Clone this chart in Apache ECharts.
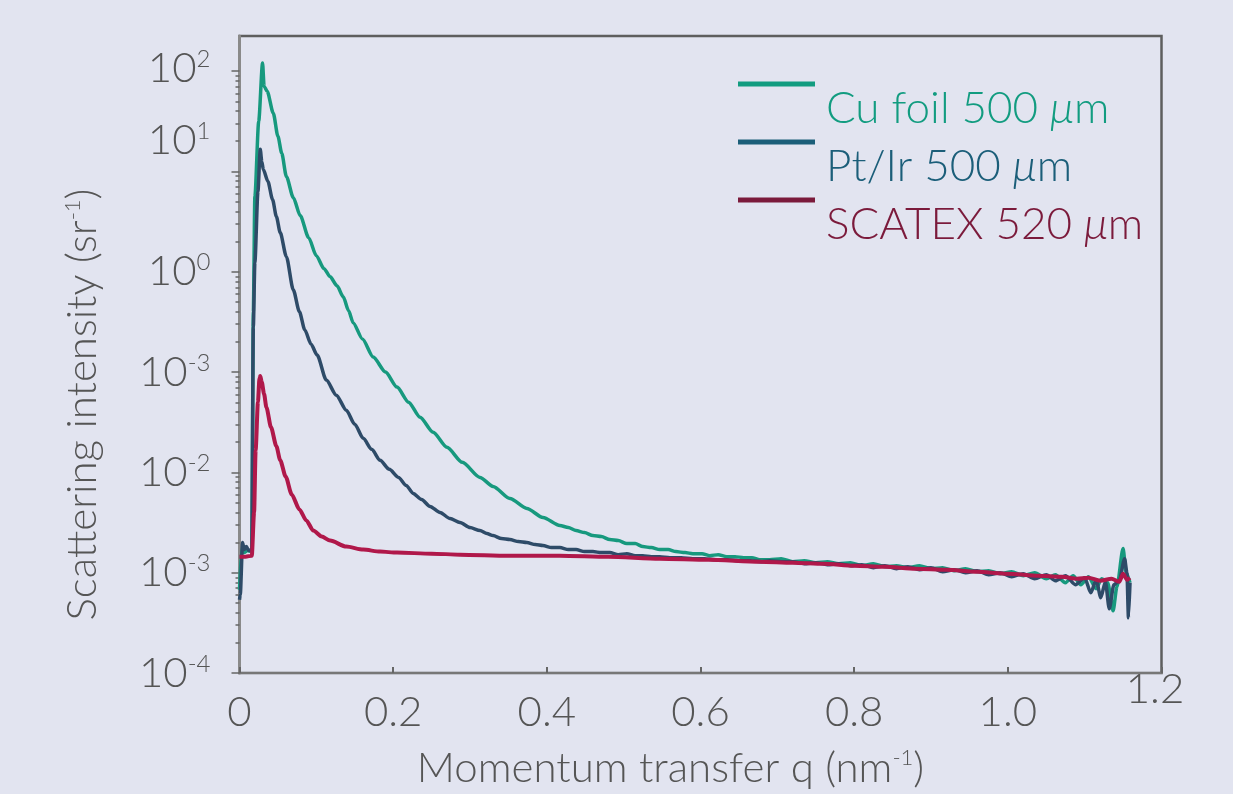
<!DOCTYPE html>
<html>
<head>
<meta charset="utf-8">
<script src="https://cdn.jsdelivr.net/npm/echarts@6/dist/echarts.min.js"></script>
<style>
  html, body { margin: 0; padding: 0; background: #e2e4f0; }
  #chart { width: 1233px; height: 794px; }
</style>
</head>
<body>
<div id="chart"></div>
<script>
// y values are positions on the (decade) log scale of the figure: 10^u
var seriesNames = ['Cu foil 500 μm', 'Pt/Ir 500 μm', 'SCATEX 520 μm'];
var lineColors = ['#17997e', '#2e4b68', '#b0184a'];
var legendColors = ['#129c80', '#1b5e79', '#7b1a3b'];

var cuData = [
  [0.000,-3.17],[0.003,-2.75],[0.006,-2.80],[0.010,-2.78],[0.016,-2.79],[0.018,-0.40],[0.020,0.75],
  [0.025,1.50],[0.030,2.08],[0.032,1.85],[0.036,1.80],[0.044,1.58],[0.050,1.35],[0.055,1.18],
  [0.061,0.95],[0.070,0.74],[0.079,0.56],[0.090,0.34],[0.100,0.16],[0.110,0.03],[0.118,-0.05],
  [0.127,-0.14],[0.135,-0.25],[0.142,-0.39],[0.148,-0.51],[0.160,-0.67],[0.174,-0.85],[0.190,-1.00],
  [0.205,-1.15],[0.220,-1.30],[0.235,-1.45],[0.252,-1.60],[0.270,-1.75],[0.290,-1.90],[0.313,-2.05],
  [0.330,-2.14],[0.352,-2.26],[0.374,-2.36],[0.395,-2.45],[0.417,-2.53],[0.428,-2.55],[0.438,-2.58],
  [0.449,-2.60],[0.460,-2.63],[0.471,-2.64],[0.482,-2.67],[0.493,-2.68],[0.504,-2.71],[0.515,-2.71],
  [0.525,-2.74],[0.536,-2.75],[0.547,-2.77],[0.558,-2.77],[0.568,-2.79],[0.580,-2.80],[0.590,-2.81],
  [0.602,-2.81],[0.612,-2.83],[0.623,-2.82],[0.634,-2.84],[0.645,-2.84],[0.656,-2.85],[0.667,-2.85],
  [0.677,-2.87],[0.690,-2.87],[0.705,-2.86],[0.720,-2.89],[0.735,-2.88],[0.750,-2.90],[0.765,-2.89],
  [0.780,-2.91],[0.795,-2.90],[0.810,-2.93],[0.825,-2.91],[0.840,-2.94],[0.855,-2.93],[0.870,-2.95],
  [0.885,-2.93],[0.900,-2.96],[0.915,-2.95],[0.930,-2.98],[0.945,-2.96],[0.960,-2.99],[0.975,-2.98],
  [0.990,-3.01],[1.005,-2.99],[1.020,-3.03],[1.035,-3.00],[1.050,-3.06],[1.062,-3.02],[1.075,-3.10],
  [1.085,-3.03],[1.095,-3.12],[1.105,-3.04],[1.115,-3.16],[1.122,-3.06],[1.130,-3.10],[1.137,-3.38],
  [1.142,-3.14],[1.150,-2.76],[1.154,-3.00],[1.159,-3.10]
];

var ptData = [
  [0.000,-3.27],[0.001,-3.22],[0.004,-2.70],[0.006,-2.77],[0.009,-2.74],[0.012,-2.78],[0.016,-2.77],
  [0.018,-0.55],[0.020,0.09],[0.024,0.80],[0.027,1.22],[0.029,1.10],[0.031,1.02],[0.037,0.90],
  [0.043,0.72],[0.048,0.55],[0.053,0.39],[0.061,0.15],[0.070,-0.18],[0.078,-0.40],[0.085,-0.58],
  [0.093,-0.72],[0.101,-0.83],[0.113,-1.08],[0.126,-1.23],[0.139,-1.38],[0.150,-1.52],[0.161,-1.66],
  [0.172,-1.77],[0.183,-1.88],[0.195,-1.97],[0.207,-2.05],[0.217,-2.13],[0.226,-2.21],[0.237,-2.27],
  [0.248,-2.34],[0.261,-2.40],[0.274,-2.46],[0.287,-2.50],[0.300,-2.55],[0.313,-2.58],[0.322,-2.61],
  [0.330,-2.63],[0.341,-2.66],[0.352,-2.67],[0.363,-2.69],[0.374,-2.70],[0.385,-2.72],[0.395,-2.73],
  [0.406,-2.75],[0.417,-2.75],[0.428,-2.77],[0.438,-2.77],[0.449,-2.79],[0.460,-2.79],[0.471,-2.80],
  [0.482,-2.80],[0.493,-2.82],[0.504,-2.81],[0.515,-2.83],[0.525,-2.83],[0.536,-2.84],[0.547,-2.84],
  [0.560,-2.85],[0.575,-2.85],[0.590,-2.86],[0.605,-2.86],[0.620,-2.87],[0.635,-2.87],[0.650,-2.88],
  [0.665,-2.88],[0.680,-2.89],[0.690,-2.88],[0.705,-2.89],[0.720,-2.89],[0.735,-2.91],[0.750,-2.90],
  [0.765,-2.92],[0.780,-2.91],[0.795,-2.93],[0.810,-2.92],[0.825,-2.95],[0.840,-2.93],[0.855,-2.96],
  [0.870,-2.94],[0.885,-2.97],[0.900,-2.95],[0.915,-2.99],[0.930,-2.97],[0.945,-3.00],[0.960,-2.98],
  [0.975,-3.02],[0.990,-3.00],[1.005,-3.04],[1.020,-3.01],[1.035,-3.06],[1.050,-3.02],[1.062,-3.08],
  [1.075,-3.03],[1.088,-3.12],[1.100,-3.05],[1.108,-3.20],[1.115,-3.07],[1.121,-3.25],[1.127,-3.09],
  [1.132,-3.36],[1.138,-3.12],[1.145,-3.08],[1.152,-2.86],[1.155,-3.00],[1.157,-3.45],[1.159,-3.10]
];

var scatexData = [
  [0.000,-2.84],[0.008,-2.84],[0.016,-2.83],[0.019,-2.40],[0.021,-1.78],[0.024,-1.30],[0.026,-1.06],
  [0.027,-1.04],[0.029,-1.10],[0.032,-1.22],[0.035,-1.35],[0.041,-1.55],[0.048,-1.74],[0.053,-1.88],
  [0.060,-2.04],[0.068,-2.22],[0.078,-2.37],[0.087,-2.48],[0.096,-2.58],[0.107,-2.64],[0.118,-2.68],
  [0.139,-2.74],[0.161,-2.77],[0.183,-2.79],[0.205,-2.80],[0.250,-2.81],[0.287,-2.82],[0.350,-2.83],
  [0.417,-2.83],[0.480,-2.84],[0.547,-2.86],[0.610,-2.87],[0.677,-2.89],[0.720,-2.90],[0.760,-2.91],
  [0.800,-2.93],[0.840,-2.94],[0.880,-2.96],[0.920,-2.97],[0.960,-2.99],[1.000,-3.01],[1.040,-3.03],
  [1.070,-3.04],[1.090,-3.06],[1.105,-3.05],[1.120,-3.08],[1.135,-3.06],[1.145,-3.09],[1.150,-3.01],
  [1.155,-3.07],[1.159,-3.05]
];

// axis labels exactly as printed on the figure
var yLabelPos = [-4, -3, -2, -1, 0, 1.31, 2.03];
var yLabelExp = ['-4', '-3', '-2', '-3', '0', '1', '2'];
var yMajorTicks = [-4, -3, -2, -1, 0, 1, 2];
var xTickLabels = [0, 0.2, 0.4, 0.6, 0.8, 1.0];

var yMinorTicks = [];
for (var d = -4; d < 2; d++) {
  for (var k = 2; k <= 9; k++) yMinorTicks.push(d + Math.log10(k));
}

var FONT = 'Lato';
var TXT = '#555555';

var chart = echarts.init(document.getElementById('chart'));
chart.setOption({
  backgroundColor: '#e2e4f0',
  animation: false,
  textStyle: { fontFamily: FONT },
  grid: {
    left: 239.5, right: 71.5, top: 36, bottom: 121,
    show: true, borderColor: '#5e5e5e', borderWidth: 2.5, backgroundColor: 'transparent'
  },
  legend: {
    orient: 'vertical',
    left: 733, top: 34,
    icon: 'rect',
    itemWidth: 77, itemHeight: 5,
    itemGap: -34,
    formatter: function (n) { return n.replace('μ', '{i|μ}'); },
    textStyle: {
      fontFamily: FONT, fontWeight: 300, fontSize: 44, lineHeight: 40,
      padding: [50, 0, 0, 6],
      rich: { i: { fontStyle: 'italic', fontSize: 44, fontFamily: FONT, fontWeight: 300 } }
    },
    data: seriesNames.map(function (n, i) {
      return { name: n, itemStyle: { color: legendColors[i] }, textStyle: { color: legendColors[i] } };
    })
  },
  xAxis: {
    type: 'value', min: 0, max: 1.2, interval: 0.2,
    name: 'Momentum transfer q (nm{s|-1})',
    nameLocation: 'middle', nameGap: 74,
    nameTextStyle: {
      color: TXT, fontSize: 42, fontWeight: 300, padding: [0, 60, 0, 0],
      rich: { s: { fontSize: 22, verticalAlign: 'top', color: TXT, fontWeight: 300 } }
    },
    axisLine: { onZero: false, lineStyle: { color: '#777777', width: 2 } },
    axisTick: { inside: true, length: 6, lineStyle: { color: '#666666', width: 2 } },
    axisLabel: {
      customValues: xTickLabels,
      color: TXT, fontSize: 42, fontWeight: 300, margin: 18,
      formatter: function (v) { return v === 0 ? '0' : v.toFixed(1); }
    },
    splitLine: { show: false }
  },
  yAxis: [{
    type: 'value', min: -4, max: 2.35,
    name: 'Scattering intensity (sr{s|-1})',
    nameLocation: 'middle', nameGap: 136, nameRotate: 90,
    nameTextStyle: {
      color: TXT, fontSize: 42, fontWeight: 300, padding: [0, 100, 0, 0],
      rich: { s: { fontSize: 22, verticalAlign: 'top', color: TXT, fontWeight: 300 } }
    },
    axisLine: { show: true, lineStyle: { color: '#8a8a8a', width: 3 } },
    axisTick: { customValues: yMajorTicks, length: 8, lineStyle: { color: '#666666', width: 1.5 } },
    axisLabel: {
      customValues: yLabelPos,
      margin: 29,
      formatter: function (v) {
        var i = yLabelPos.indexOf(v);
        return '{b|10}{s|' + yLabelExp[i] + '}';
      },
      rich: {
        b: { fontSize: 42, color: TXT, fontWeight: 300, fontFamily: FONT, lineHeight: 42 },
        s: { fontSize: 24, color: TXT, fontWeight: 300, fontFamily: FONT, verticalAlign: 'top', lineHeight: 24 }
      }
    },
    splitLine: { show: false }
  }, {
    type: 'value', min: -4, max: 2.35, position: 'left',
    axisLine: { show: false },
    axisTick: { customValues: yMinorTicks, length: 4, lineStyle: { color: '#666666', width: 1.5 } },
    axisLabel: { show: false },
    splitLine: { show: false }
  }],
  graphic: [{
    type: 'text',
    style: {
      text: '1.2', x: 1155, y: 689, align: 'center', verticalAlign: 'middle',
      fill: TXT, font: '300 42px ' + FONT
    }
  }],
  series: [
    { name: seriesNames[0], type: 'line', data: cuData, showSymbol: false, z: 2,
      smooth: 0.25, smoothMonotone: 'x',
      lineStyle: { color: lineColors[0], width: 3.5 }, itemStyle: { color: lineColors[0] } },
    { name: seriesNames[1], type: 'line', data: ptData, showSymbol: false, z: 3,
      smooth: 0.25, smoothMonotone: 'x',
      lineStyle: { color: lineColors[1], width: 3.5 }, itemStyle: { color: lineColors[1] } },
    { name: seriesNames[2], type: 'line', data: scatexData, showSymbol: false, z: 4,
      smooth: 0.25, smoothMonotone: 'x',
      lineStyle: { color: lineColors[2], width: 4 }, itemStyle: { color: lineColors[2] } }
  ]
});
</script>
</body>
</html>
